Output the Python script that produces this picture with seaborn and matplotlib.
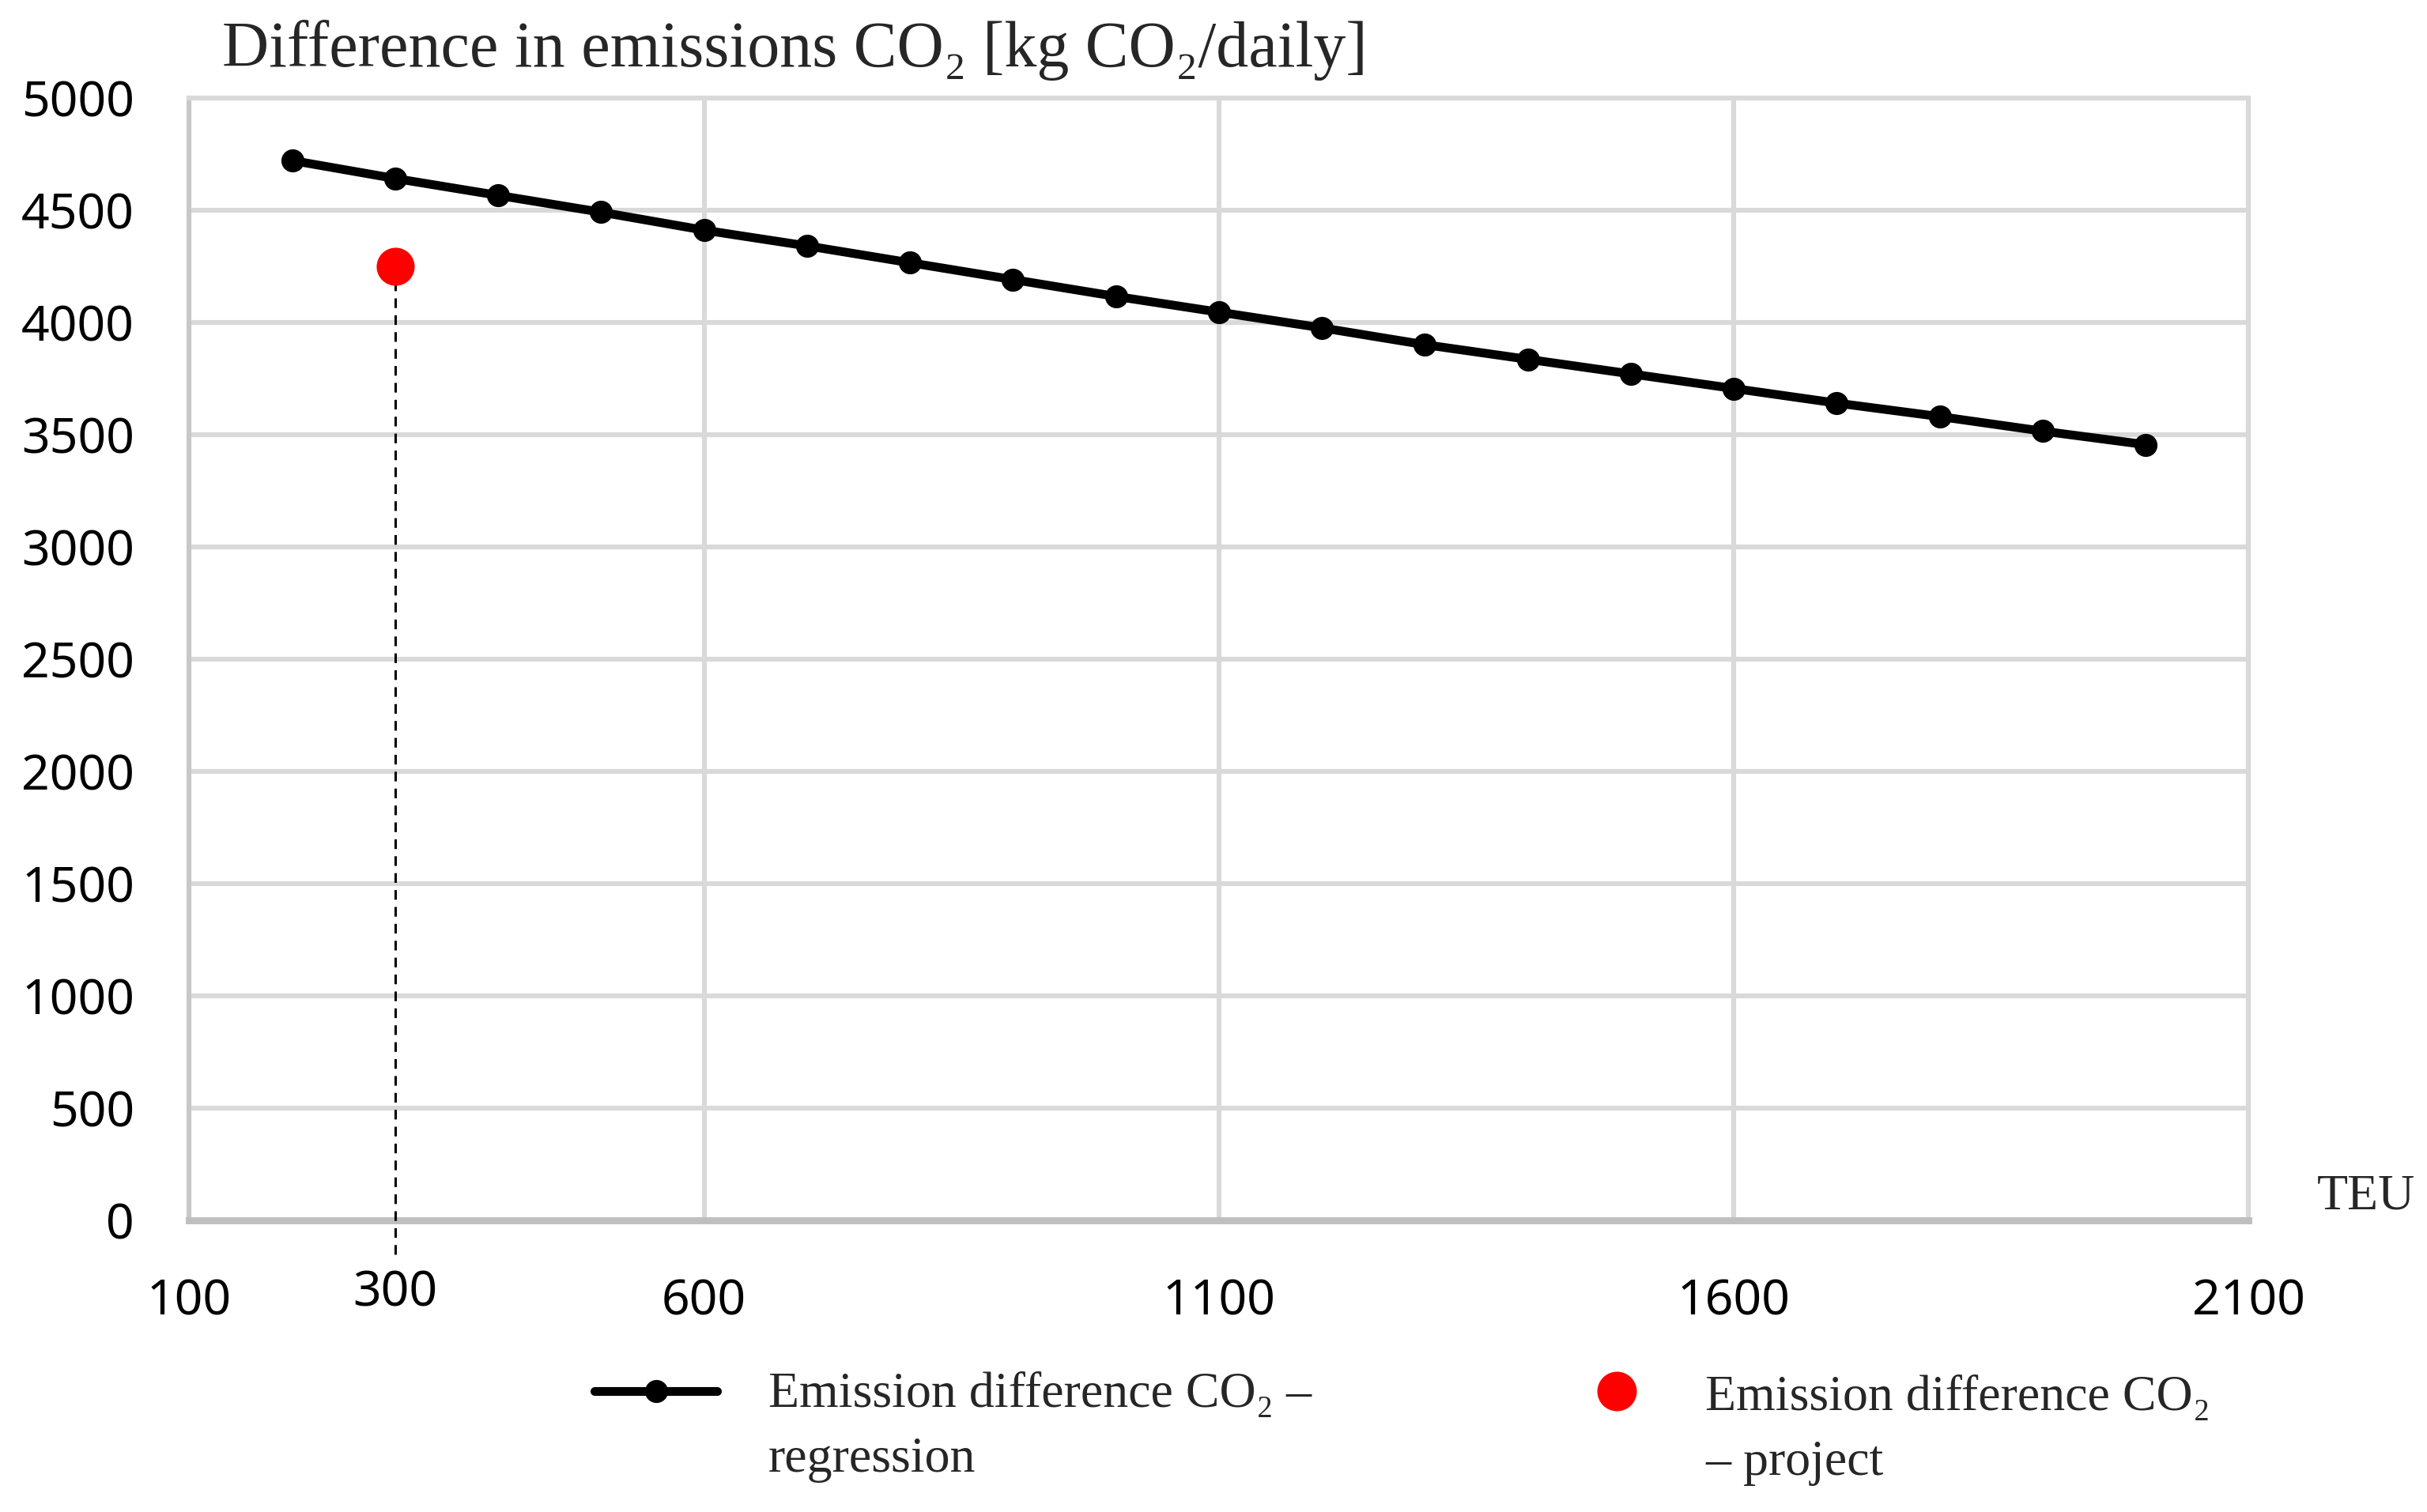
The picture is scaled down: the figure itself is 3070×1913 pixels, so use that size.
import matplotlib.pyplot as plt
import numpy as np
import pandas as pd
import seaborn as sns
from matplotlib.lines import Line2D

# values
teu = [200, 300, 400, 500, 600, 700, 800, 900, 1000, 1100,
       1200, 1300, 1400, 1500, 1600, 1700, 1800, 1900, 2000]
regression = [4720, 4640, 4565, 4490, 4410, 4340, 4265, 4190, 4115, 4045,
              3975, 3900, 3835, 3770, 3705, 3640, 3580, 3515, 3455]
project_teu = [300]
project_value = [4250]
x_ticks = [100, 600, 1100, 1600, 2100]
y_ticks = list(range(0, 5001, 500))

title = "Difference in emissions CO\u2082 [kg CO\u2082/daily]"
label_reg = "Emission difference CO\u2082 \u2013\nregression"
label_proj = "Emission difference CO\u2082\n\u2013 project"

sns.set_style("white")
serif = ["Liberation Serif", "DejaVu Serif"]
plt.rcParams['font.family'] = ["Noto Sans", "DejaVu Sans"]

df = pd.DataFrame({"TEU": teu, "diff": regression})
proj = pd.DataFrame({"TEU": project_teu, "diff": project_value})

fig = plt.figure(figsize=(15.35, 9.565), dpi=200)
ax = fig.add_axes([0.078, 0.1928, 0.8485, 0.7426])

grid_c = "#d9d9d9"
ax.set_xlim(100, 2100)
ax.set_ylim(0, 5000)
ax.set_xticks(x_ticks)
ax.set_yticks(y_ticks)
ax.set_xticks(project_teu, minor=True)
ax.set_xticklabels([str(v) for v in project_teu], minor=True)
ax.grid(True, which='major', color=grid_c, linewidth=2.2)
ax.set_axisbelow(True)
ax.tick_params(axis='both', which='both', length=0, labelsize=22.5, colors='black')
ax.tick_params(axis='x', which='major', pad=26)
ax.tick_params(axis='x', which='minor', pad=22)
ax.tick_params(axis='y', pad=25)

for side in ['top', 'right']:
    ax.spines[side].set_color(grid_c)
    ax.spines[side].set_linewidth(2.2)
ax.spines['left'].set_color("#c8c8c8")
ax.spines['left'].set_linewidth(2.2)
ax.spines['bottom'].set_color("#bfbfbf")
ax.spines['bottom'].set_linewidth(3.2)

# dashed guide from project point down below the axis
ax.vlines(project_teu, -150, project_value, colors='black', linestyles=(0, (4, 3)),
          linewidth=1.1, clip_on=False, zorder=3)

sns.lineplot(data=df, x="TEU", y="diff", ax=ax, color='black', linewidth=4.0,
             marker='o', markersize=10.5, markeredgewidth=0, zorder=4)
sns.scatterplot(data=proj, x="TEU", y="diff", ax=ax, color='#ff0000', s=300,
                linewidth=0, zorder=5)
ax.set_xlabel("")
ax.set_ylabel("")

fig.text(0.0914, 0.967, title, family=serif, fontsize=29.5, va='center', ha='left')
ax.text(1.033, 0.021, "TEU", transform=ax.transAxes, family=serif, fontsize=23,
        va='center', ha='left')

# legend drawn by hand to keep the reference layout
fig.add_artist(Line2D([0.2449, 0.2954], [0.080, 0.080], color='black', linewidth=4.0,
                      transform=fig.transFigure))
fig.add_artist(Line2D([0.2705], [0.080], color='black', marker='o', markersize=10.5,
                      markeredgewidth=0, transform=fig.transFigure))
fig.add_artist(Line2D([0.6662], [0.080], color='#ff0000', marker='o', markersize=18,
                      markeredgewidth=0, linestyle='none', transform=fig.transFigure))
fig.text(0.3165, 0.0559, label_reg, family=serif, fontsize=23, va='center', ha='left',
         linespacing=1.55)
fig.text(0.7027, 0.0538, label_proj, family=serif, fontsize=23, va='center', ha='left',
         linespacing=1.55)

fig.savefig("out.png", dpi=200)
